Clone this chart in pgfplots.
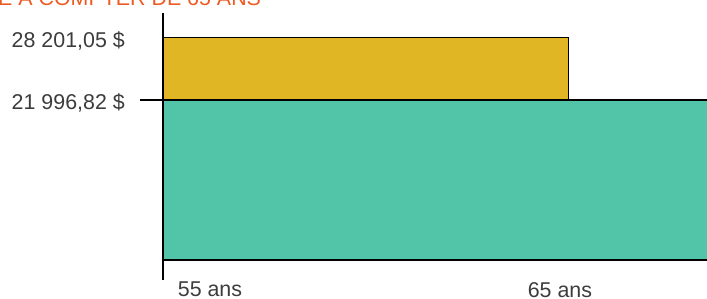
\documentclass[border=0pt]{standalone}
\usepackage{pgfplots}
\pgfplotsset{compat=1.18}
\usepackage{fontspec}
\setmainfont{Liberation Sans}
\definecolor{gold}{HTML}{E1B624}
\definecolor{teal}{HTML}{52C4A7}
\definecolor{titleor}{HTML}{EE5A24}
\definecolor{txt}{HTML}{3C3C3C}
\begin{document}
\begin{tikzpicture}
\path[use as bounding box] (0,0) rectangle (707bp,299bp);
\clip (0,0) rectangle (707bp,299bp);
\node[anchor=base west, inner sep=0pt, text=titleor, font=\fontsize{21.4bp}{25bp}\selectfont] at (-2bp,293bp) {E À COMPTER DE 65 ANS};
\begin{axis}[
 at={(163bp,39bp)}, anchor=south west,
 scale only axis, width=567bp, height=247bp,
 xmin=55, xmax=69, ymin=6000, ymax=30700,
 scaled y ticks=false, scaled x ticks=false,
 axis lines=left, axis line style={-, line width=2bp, black},
 y axis line style={shorten <=-20bp},
 clip=false, axis on top,
 xtick={56.16,64.8}, xticklabels={55 ans,65 ans},
 ytick={21996.82,28201.05}, yticklabels={{21 996,82 \$},{28 201,05 \$}},
 major tick length=0pt,
 tick label style={font=\fontsize{21.4bp}{25bp}\selectfont, text=txt, inner sep=0pt},
 yticklabel style={anchor=east, xshift=-38bp, yshift=-3bp},
 xticklabel style={anchor=north, yshift=-22bp},
]
\addplot[fill=teal, draw=none] coordinates {(55,6000) (69,6000) (69,21996.82) (55,21996.82)} -- cycle;
\addplot[fill=gold, draw=black, line width=1bp] coordinates {(55,21996.82) (55,28201.05) (65,28201.05) (65,21996.82)} -- cycle;
\addplot[black, line width=2bp] coordinates {(54.432,21996.82) (69,21996.82)};
\end{axis}
\end{tikzpicture}
\end{document}
